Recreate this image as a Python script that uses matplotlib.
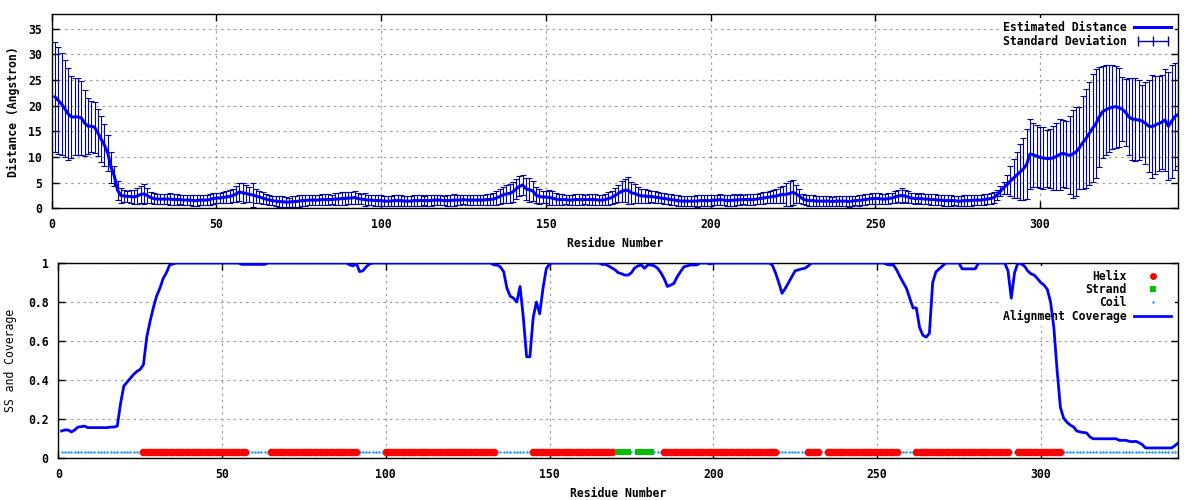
import numpy as np
import matplotlib
matplotlib.use('Agg')
import matplotlib.pyplot as plt
import matplotlib.ticker as ticker
from matplotlib.lines import Line2D
from matplotlib.legend_handler import HandlerLine2D

# ── data (one value per residue) ────────────────────────────────────────────
n_res = 342

dist = [
    21.7, 21.0, 20.3, 19.4, 18.4, 17.8, 17.8, 17.8, 17.6, 16.6,
    16.0, 16.0, 15.8, 14.7, 13.5, 12.3, 10.8, 8.0, 6.3, 3.5,
    2.5, 2.4, 2.3, 2.3, 2.2, 2.4, 2.7, 2.8, 2.5, 2.1,
    1.9, 1.8, 1.8, 1.8, 1.8, 1.8, 1.7, 1.7, 1.7, 1.6,
    1.6, 1.6, 1.5, 1.5, 1.6, 1.6, 1.6, 1.7, 1.9, 2.0,
    2.0, 2.1, 2.2, 2.3, 2.5, 2.8, 3.2, 3.0, 2.9, 2.7,
    2.6, 2.4, 2.2, 2.0, 1.8, 1.6, 1.5, 1.4, 1.3, 1.3,
    1.2, 1.2, 1.3, 1.3, 1.4, 1.5, 1.5, 1.6, 1.6, 1.6,
    1.6, 1.7, 1.7, 1.7, 1.7, 1.8, 1.8, 1.9, 1.9, 2.0,
    2.0, 2.1, 1.9, 1.8, 1.7, 1.6, 1.6, 1.5, 1.5, 1.5,
    1.4, 1.4, 1.4, 1.5, 1.5, 1.5, 1.4, 1.4, 1.4, 1.5,
    1.5, 1.5, 1.5, 1.5, 1.5, 1.6, 1.6, 1.6, 1.5, 1.5,
    1.5, 1.6, 1.6, 1.6, 1.7, 1.6, 1.6, 1.6, 1.6, 1.6,
    1.6, 1.7, 1.7, 1.8, 2.0, 2.3, 2.6, 2.8, 2.9, 3.2,
    3.8, 4.3, 4.5, 3.8, 3.6, 3.4, 2.6, 2.3, 2.2, 2.2,
    2.1, 2.0, 1.8, 1.7, 1.7, 1.7, 1.6, 1.6, 1.7, 1.7,
    1.7, 1.7, 1.7, 1.7, 1.7, 1.6, 1.6, 1.7, 1.9, 2.1,
    2.5, 2.9, 3.3, 3.5, 3.5, 3.0, 2.9, 2.6, 2.4, 2.4,
    2.3, 2.3, 2.2, 2.1, 2.0, 1.9, 1.8, 1.7, 1.6, 1.5,
    1.4, 1.4, 1.4, 1.4, 1.4, 1.4, 1.5, 1.5, 1.5, 1.5,
    1.6, 1.6, 1.7, 1.6, 1.5, 1.5, 1.6, 1.6, 1.7, 1.7,
    1.7, 1.7, 1.7, 1.8, 1.9, 2.0, 2.1, 2.2, 2.3, 2.4,
    2.6, 2.7, 2.7, 2.9, 3.1, 2.8, 2.4, 1.8, 1.6, 1.5,
    1.5, 1.4, 1.4, 1.4, 1.4, 1.4, 1.3, 1.4, 1.4, 1.4,
    1.4, 1.3, 1.4, 1.5, 1.5, 1.6, 1.7, 1.8, 1.9, 1.9,
    1.9, 1.8, 1.8, 1.9, 2.0, 2.2, 2.4, 2.5, 2.4, 2.2,
    2.0, 1.9, 1.9, 1.9, 1.8, 1.8, 1.7, 1.7, 1.6, 1.6,
    1.5, 1.5, 1.5, 1.5, 1.4, 1.4, 1.5, 1.5, 1.5, 1.6,
    1.6, 1.6, 1.7, 1.8, 1.9, 2.1, 2.6, 3.3, 4.0, 4.6,
    5.3, 5.9, 6.5, 7.1, 7.7, 8.6, 10.6, 10.4, 10.2, 9.9,
    9.8, 9.7, 9.7, 9.8, 10.1, 10.5, 10.7, 10.5, 10.3, 10.6,
    11.0, 11.8, 12.8, 13.6, 14.6, 15.6, 16.5, 17.8, 18.8, 19.2,
    19.5, 19.7, 19.8, 19.6, 19.3, 18.7, 17.8, 17.4, 17.3, 17.2,
    17.0, 16.6, 16.0, 15.9, 16.2, 16.5, 16.8, 17.2, 16.0, 17.0,
    17.9, 18.3,
]

sd = [
    10.8, 10.5, 10.0, 9.5, 9.0, 8.0, 7.5, 7.5, 7.3, 6.5,
    5.5, 5.0, 5.0, 4.6, 4.4, 4.1, 3.5, 3.0, 1.9, 1.8,
    1.5, 1.2, 1.1, 1.2, 1.3, 1.5, 1.6, 2.0, 1.4, 1.1,
    1.0, 1.0, 1.0, 0.9, 1.0, 1.1, 1.0, 1.0, 0.9, 1.0,
    1.0, 0.9, 1.1, 1.0, 1.0, 0.9, 1.0, 1.0, 1.0, 1.0,
    1.0, 1.1, 1.1, 1.2, 1.3, 1.5, 1.8, 1.9, 1.6, 1.5,
    2.3, 1.4, 1.2, 1.1, 1.0, 1.0, 0.9, 1.0, 1.0, 1.0,
    1.0, 0.9, 1.0, 1.0, 1.1, 1.0, 1.0, 0.9, 1.0, 1.0,
    1.0, 1.1, 1.0, 1.0, 0.9, 1.1, 1.2, 1.2, 1.3, 1.1,
    1.1, 1.2, 1.1, 1.0, 1.3, 1.0, 0.9, 1.0, 1.0, 1.0,
    1.0, 0.9, 1.0, 1.0, 1.1, 1.0, 1.0, 0.9, 1.0, 1.0,
    1.0, 1.0, 0.9, 1.0, 1.1, 1.0, 1.0, 1.0, 0.9, 1.0,
    1.0, 1.1, 1.0, 1.0, 0.9, 1.0, 1.0, 1.0, 1.0, 1.0,
    1.0, 1.0, 1.1, 1.2, 1.3, 1.4, 1.6, 1.8, 1.8, 2.0,
    2.0, 2.0, 1.9, 2.2, 2.3, 2.0, 1.6, 1.4, 1.2, 1.2,
    1.5, 1.3, 1.1, 1.0, 1.0, 0.9, 1.0, 1.0, 1.0, 1.0,
    1.0, 0.9, 1.0, 1.0, 1.0, 1.0, 1.0, 1.1, 1.2, 1.3,
    1.5, 1.7, 2.0, 2.3, 2.6, 2.2, 1.8, 1.6, 1.4, 1.3,
    1.2, 1.1, 1.1, 1.0, 1.0, 1.0, 0.9, 1.0, 1.0, 1.0,
    1.0, 1.0, 0.9, 1.0, 1.0, 1.1, 1.0, 1.0, 1.0, 1.0,
    1.0, 0.9, 1.0, 1.0, 1.0, 1.0, 1.1, 1.0, 1.0, 0.9,
    1.0, 1.0, 1.0, 1.0, 1.0, 1.1, 1.1, 1.2, 1.3, 1.4,
    1.6, 1.7, 2.2, 2.4, 2.4, 1.8, 1.3, 1.0, 1.0, 1.0,
    1.0, 0.9, 1.0, 1.0, 1.0, 1.0, 0.9, 1.0, 1.0, 1.0,
    1.0, 1.0, 1.0, 0.9, 1.0, 1.0, 1.0, 1.0, 1.0, 1.0,
    1.0, 1.0, 1.0, 1.0, 1.0, 1.1, 1.2, 1.4, 1.2, 1.1,
    1.0, 1.0, 0.9, 1.0, 1.0, 1.0, 1.0, 1.0, 0.9, 1.0,
    1.0, 1.0, 1.0, 0.9, 1.0, 1.0, 1.0, 1.0, 1.0, 1.0,
    1.0, 1.0, 1.0, 1.0, 1.0, 1.1, 1.0, 1.0, 1.2, 1.8,
    3.0, 3.8, 4.5, 5.5, 6.0, 6.8, 6.8, 6.2, 6.0, 6.0,
    6.1, 5.6, 5.8, 6.2, 6.6, 6.9, 6.5, 6.6, 7.6, 8.5,
    8.7, 8.0, 9.0, 9.6, 10.0, 10.5, 10.6, 9.8, 9.0, 8.8,
    8.5, 8.2, 8.0, 7.7, 6.2, 6.5, 7.5, 8.0, 8.0, 7.8,
    7.0, 8.0, 9.0, 10.0, 9.6, 9.3, 9.2, 10.0, 10.5, 11.0,
    10.5, 10.0,
]

coverage = [
    0.140, 0.145, 0.145, 0.135, 0.145, 0.160, 0.162, 0.165, 0.157, 0.157,
    0.157, 0.157, 0.157, 0.157, 0.157, 0.160, 0.160, 0.165, 0.280, 0.370,
    0.390, 0.410, 0.430, 0.445, 0.455, 0.480, 0.620, 0.700, 0.770, 0.830,
    0.870, 0.920, 0.950, 0.990, 0.995, 1, 1, 1, 1, 1,
    1, 1, 1, 1, 1, 1, 1, 1, 1, 1,
    1, 1, 1, 1, 1, 0.993, 0.993, 0.993, 0.993, 0.993,
    0.993, 0.993, 0.993, 1, 1, 1, 1, 1, 1, 1,
    1, 1, 1, 1, 1, 1, 1, 1, 1, 1,
    1, 1, 1, 1, 1, 1, 1, 1, 0.990, 0.985,
    0.998, 0.956, 0.960, 0.980, 0.995, 1, 1, 1, 1, 1,
    1, 1, 1, 1, 1, 1, 1, 1, 1, 1,
    1, 1, 1, 1, 1, 1, 1, 1, 1, 1,
    1, 1, 1, 1, 1, 1, 1, 1, 1, 1,
    1, 1, 0.990, 0.990, 0.980, 0.955, 0.870, 0.830, 0.820, 0.800,
    0.880, 0.720, 0.520, 0.520, 0.720, 0.800, 0.740, 0.870, 0.970, 0.995,
    1, 1, 1, 1, 1, 1, 1, 1, 1, 1,
    1, 1, 1, 1, 1, 0.993, 0.993, 0.985, 0.975, 0.965,
    0.950, 0.945, 0.938, 0.938, 0.950, 0.975, 0.985, 0.990, 0.973, 0.990,
    0.990, 0.985, 0.973, 0.950, 0.920, 0.880, 0.887, 0.896, 0.930, 0.955,
    0.980, 0.985, 0.990, 0.990, 0.990, 1, 1, 1, 0.995, 1,
    1, 1, 1, 1, 1, 1, 1, 1, 1, 1,
    1, 1, 1, 1, 1, 1, 1, 0.990, 0.950, 0.900,
    0.845, 0.870, 0.900, 0.930, 0.960, 0.965, 0.970, 0.973, 0.985, 1,
    1, 1, 1, 1, 1, 1, 1, 1, 1, 1,
    1, 1, 1, 1, 1, 1, 1, 1, 1, 1,
    1, 1, 0.993, 0.990, 0.990, 0.965, 0.930, 0.900, 0.870, 0.820,
    0.770, 0.770, 0.670, 0.630, 0.620, 0.640, 0.900, 0.955, 0.970, 0.985,
    1, 1, 1, 1, 1, 0.970, 0.970, 0.970, 0.970, 0.970,
    1, 1, 1, 1, 1, 1, 1, 1, 1, 0.960,
    0.820, 0.950, 1, 0.995, 0.985, 0.960, 0.945, 0.938, 0.920, 0.900,
    0.887, 0.865, 0.800, 0.670, 0.450, 0.260, 0.205, 0.185, 0.170, 0.161,
    0.140, 0.135, 0.132, 0.130, 0.110, 0.100, 0.100, 0.100, 0.100, 0.100,
    0.100, 0.100, 0.100, 0.092, 0.092, 0.092, 0.087, 0.085, 0.087, 0.080,
    0.070, 0.053, 0.053, 0.053, 0.053, 0.053, 0.053, 0.053, 0.053, 0.053,
    0.065, 0.079,
]

# secondary structure segments (first, last residue)
helix_ranges = [(26, 57), (65, 91), (100, 133), (145, 169), (185, 219),
                (229, 232), (235, 256), (262, 290), (293, 306)]
strand_ranges = [(171, 174), (177, 181)]
ss_level = 0.03

xticks = [0, 50, 100, 150, 200, 250, 300]
dist_yticks = [0, 5, 10, 15, 20, 25, 30, 35]
cov_yticks = [0, 0.2, 0.4, 0.6, 0.8, 1.0]

assert len(dist) == n_res and len(sd) == n_res and len(coverage) == n_res

res = np.arange(1, n_res + 1)
dist = np.array(dist)
sd = np.array(sd)
coverage = np.array(coverage)

ss = np.array(['C'] * n_res)
for a, b in helix_ranges:
    ss[a - 1:b] = 'H'
for a, b in strand_ranges:
    ss[a - 1:b] = 'E'

# ── style ─────────────────────────────────────────────────────────────────────
plt.rcParams['font.family'] = ['DejaVu Sans Mono']
plt.rcParams['font.size'] = 8.3
plt.rcParams['font.weight'] = 'bold'
plt.rcParams['axes.labelweight'] = 'bold'

GRID = dict(color='#a0a0a0', linestyle=(0, (2, 3)), linewidth=0.9)


def style_axes(ax, xlim, ylim, yticks):
    ax.set_xlim(*xlim)
    ax.set_ylim(*ylim)
    ax.set_xticks(xticks)
    ax.set_yticks(yticks)
    ax.set_axisbelow(True)
    ax.grid(True, **GRID)
    ax.tick_params(direction='in', length=5, width=1, top=True, right=True,
                   pad=7, labelsize=8.3)
    for s in ax.spines.values():
        s.set_linewidth(1)
    ax.yaxis.set_major_formatter(ticker.FuncFormatter(lambda v, p: f'{v:g}'))


fig = plt.figure(figsize=(12, 5), dpi=100)
ax1 = fig.add_axes([0.0431, 0.5834, 0.9388, 0.388])
ax2 = fig.add_axes([0.0486, 0.0834, 0.9333, 0.3906])

# ── top: estimated distance ───────────────────────────────────────────────────
ax1.errorbar(res, dist, yerr=sd, fmt='none', ecolor='#0000a0',
             elinewidth=0.8, capsize=2, capthick=0.8, zorder=2)
ax1.plot(res, dist, color='#0000ff', linewidth=2.2, zorder=3)
style_axes(ax1, (0, n_res), (0, 37.8), dist_yticks)
ax1.set_xlabel('Residue Number', labelpad=4)
ax1.set_ylabel('Distance (Angstron)', labelpad=6)

h_line = Line2D([], [], color='#0000ff', linewidth=2.2)
h_sd = Line2D([], [], color='#0000a0', linewidth=1, marker='|',
              markersize=7, markeredgewidth=1)
leg1 = ax1.legend([h_line, h_sd], ['Estimated Distance', 'Standard Deviation'],
                  loc='upper right', markerfirst=False, frameon=True,
                  facecolor='white', edgecolor='none', framealpha=1,
                  fancybox=False, handlelength=3.2, handletextpad=0.7,
                  labelspacing=0.05, borderaxespad=0.3, borderpad=0.3,
                  handler_map={h_sd: HandlerLine2D(numpoints=3)})
leg1.set_zorder(1.5)

# ── bottom: SS and coverage ───────────────────────────────────────────────────
coil = ss == 'C'
helix = ss == 'H'
strand = ss == 'E'
ax2.plot(res[coil], np.full(coil.sum(), ss_level), linestyle='none',
         marker='.', markersize=1.5, color='#1e90ff', zorder=2)
ax2.plot(res[helix], np.full(helix.sum(), ss_level), linestyle='none',
         marker='o', markersize=5.5, markeredgewidth=0, color='#ff0000', zorder=2)
ax2.plot(res[strand], np.full(strand.sum(), ss_level), linestyle='none',
         marker='s', markersize=5, markeredgewidth=0, color='#00c000', zorder=2)
ax2.plot(res, coverage, color='#0000ff', linewidth=2, zorder=3)
style_axes(ax2, (0, n_res), (0, 1), cov_yticks)
ax2.set_xlabel('Residue Number', labelpad=4)
ax2.set_ylabel('SS and Coverage', labelpad=8, fontweight='normal')

handles2 = [
    Line2D([], [], linestyle='none', marker='o', markersize=5,
           markeredgewidth=0, color='#ff0000'),
    Line2D([], [], linestyle='none', marker='s', markersize=5,
           markeredgewidth=0, color='#00c000'),
    Line2D([], [], linestyle='none', marker='.', markersize=1.5, color='#1e90ff'),
    Line2D([], [], color='#0000ff', linewidth=2),
]
leg2 = ax2.legend(handles2, ['Helix', 'Strand', 'Coil', 'Alignment Coverage'],
                  loc='upper right', markerfirst=False, numpoints=1,
                  frameon=True, facecolor='white', edgecolor='none',
                  framealpha=1, fancybox=False, handlelength=3.2,
                  handletextpad=0.7, labelspacing=0.02, borderaxespad=0.3,
                  borderpad=0.3)
leg2.set_zorder(1.5)

fig.savefig('out.png', dpi=100)
print('saved out.png')
